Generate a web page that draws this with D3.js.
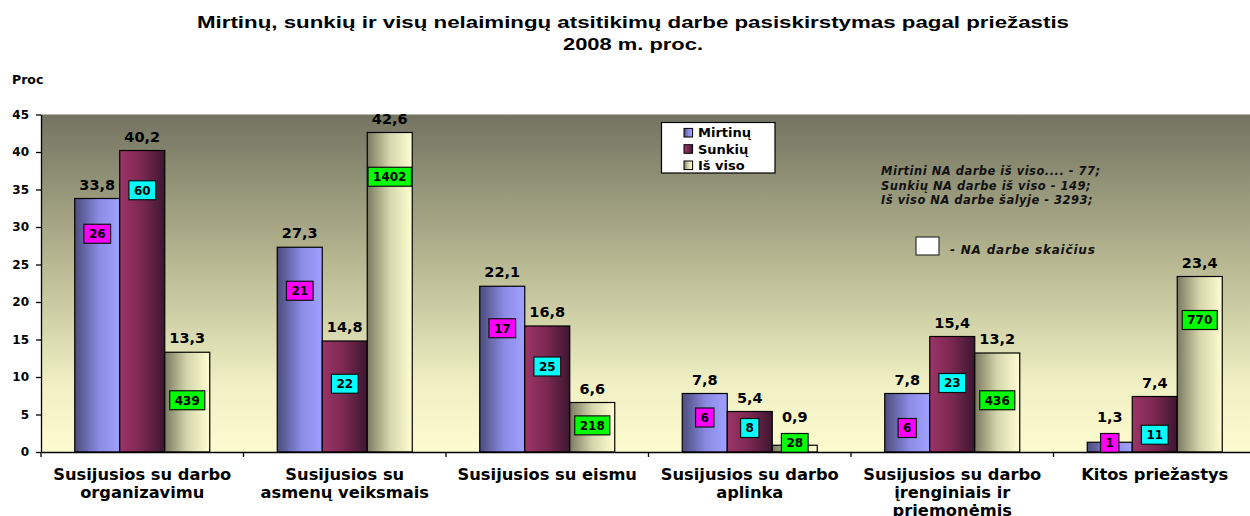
<!DOCTYPE html>
<html lang="lt">
  <head>
    <meta charset="utf-8">
    <title>Nelaimingi atsitikimai darbe 2008</title>
    <script src="https://cdn.jsdelivr.net/npm/d3@7"></script>
    <style>
      body { margin: 0; background: #fff; }
      text { font-family: "DejaVu Sans", sans-serif; font-weight: bold; }
    </style>
  </head>
  <body>
    <script>
    // data (percent of all cases per cause)
    var categories = [
      ["Susijusios su darbo", "organizavimu"],
      ["Susijusios su", "asmenų veiksmais"],
      ["Susijusios su eismu"],
      ["Susijusios su darbo", "aplinka"],
      ["Susijusios su darbo", "įrenginiais ir", "priemonėmis"],
      ["Kitos priežastys"]
    ];
    var seriesNames = ["Mirtinų", "Sunkių", "Iš viso"];

    var mirtinu = [33.8, 27.3, 22.1, 7.8, 7.8, 1.3];
    var sunkiu  = [40.2, 14.8, 16.8, 5.4, 15.4, 7.4];
    var isViso  = [13.3, 42.6, 6.6, 0.9, 13.2, 23.4];

    // number of accidents (boxed labels)
    var mirtinuCount = [26, 21, 17, 6, 6, 1];
    var sunkiuCount  = [60, 22, 25, 8, 23, 11];
    var isVisoCount  = [439, 1402, 218, 28, 436, 770];

    var yTicks = [0, 5, 10, 15, 20, 25, 30, 35, 40, 45];

    var noteLines = [
      "Mirtini NA darbe iš viso.... - 77;",
      "Sunkių NA darbe iš viso - 149;",
      "Iš viso NA darbe šalyje - 3293;"
    ];
    var noteKey = "- NA darbe skaičius";

    // where the hand placed count boxes sit, in axis units
    var boxAt = [
      [29.1, 21.5, 16.5, 4.6, 3.2, 1.2],
      [34.9, 9.1, 11.4, 3.2, 9.2, 2.3],
      [6.9, 36.7, 3.55, 1.2, 6.9, 17.6]
    ];

    var values = [mirtinu, sunkiu, isViso];
    var counts = [mirtinuCount, sunkiuCount, isVisoCount];
    var boxColors = ["#ff00ff", "#00ffff", "#00ff00"];

    var w = 1250, h = 516;
    var plotLeft = 41, plotTop = 114.5, plotBottom = 452;
    var step = 202.5;

    var svg = d3.select("body").append("svg")
                .attr("width", w)
                .attr("height", h);

    var defs = svg.append("defs");

    // plot background
    var bg = defs.append("linearGradient").attr("id", "bg")
                 .attr("x1", 0).attr("y1", 0).attr("x2", 0).attr("y2", 1);
    [[0, "#737361"], [0.45, "#b9b993"], [0.8, "#f0f0c4"], [1, "#fcfcd0"]].forEach(function(s) {
      bg.append("stop").attr("offset", s[0]).attr("stop-color", s[1]);
    });

    // bar gradients, one per series
    var barStops = [
      [[0, "#4c4c7c"], [0.55, "#8c8ce6"], [1, "#a0a0ff"]],
      [[0, "#9c3468"], [0.5, "#7a2850"], [1, "#3c1630"]],
      [[0, "#7a7a62"], [0.5, "#d6d6ac"], [1, "#fefed2"]]
    ];
    barStops.forEach(function(stops, i) {
      var g = defs.append("linearGradient").attr("id", "bar" + i)
                  .attr("x1", 0).attr("y1", 0).attr("x2", 1).attr("y2", 0);
      stops.forEach(function(s) {
        g.append("stop").attr("offset", s[0]).attr("stop-color", s[1]);
      });
    });

    // scales
    var x0 = d3.scaleBand()
               .domain(d3.range(categories.length))
               .range([plotLeft, plotLeft + step * categories.length])
               .padding(0);
    var x1 = d3.scaleBand()
               .domain(d3.range(seriesNames.length))
               .range([0, x0.bandwidth()])
               .paddingInner(0)
               .paddingOuter(0.75);
    var y = d3.scaleLinear().domain([0, 45]).range([plotBottom, plotTop]);

    svg.append("rect")
       .attr("x", plotLeft).attr("y", plotTop)
       .attr("width", w - plotLeft).attr("height", plotBottom - plotTop)
       .attr("fill", "url(#bg)");

    // title (the original is set wide, so stretch it to the same span)
    var title = svg.append("text")
       .attr("text-anchor", "middle")
       .style("font-family", "'Liberation Sans', Arial, sans-serif")
       .style("font-size", "17px");
    title.append("tspan").attr("x", 633).attr("y", 28)
         .attr("textLength", 872).attr("lengthAdjust", "spacingAndGlyphs")
         .text("Mirtinų, sunkių ir visų nelaimingų atsitikimų darbe pasiskirstymas pagal priežastis");
    title.append("tspan").attr("x", 633).attr("y", 50)
         .attr("textLength", 140).attr("lengthAdjust", "spacingAndGlyphs")
         .text("2008 m. proc.");

    svg.append("text")
       .attr("x", 12).attr("y", 84)
       .style("font-size", "12.5px")
       .text("Proc");

    // bars
    var groups = svg.selectAll("g.cat")
       .data(categories)
       .enter().append("g")
       .attr("class", "cat")
       .attr("transform", function(d, i) { return "translate(" + x0(i) + ",0)"; });

    groups.selectAll("rect")
       .data(function(d, i) { return values.map(function(v, s) { return {s: s, v: v[i]}; }); })
       .enter().append("rect")
       .attr("x", function(d) { return x1(d.s); })
       .attr("y", function(d) { return y(d.v); })
       .attr("width", x1.bandwidth())
       .attr("height", function(d) { return y(0) - y(d.v); })
       .attr("fill", function(d) { return "url(#bar" + d.s + ")"; })
       .attr("stroke", "#000")
       .attr("stroke-width", 1.2);

    // count boxes
    var boxes = groups.selectAll("g.box")
       .data(function(d, i) { return counts.map(function(c, s) { return {s: s, n: c[i], at: boxAt[s][i]}; }); })
       .enter().append("g")
       .attr("class", "box");

    boxes.each(function(d) {
      var g = d3.select(this);
      var cx = x1(d.s) + x1.bandwidth() / 2;
      var cy = y(d.at);
      var t = g.append("text")
               .attr("x", cx).attr("y", cy)
               .attr("dy", "0.36em")
               .attr("text-anchor", "middle")
               .style("font-size", "12px")
               .text(d.n);
      var tw = t.node().getComputedTextLength();
      var bw = Math.max(tw + 10, 18);
      g.insert("rect", "text")
       .attr("x", cx - bw / 2).attr("y", cy - 9.5)
       .attr("width", bw).attr("height", 19)
       .attr("fill", boxColors[d.s])
       .attr("stroke", "#111")
       .attr("stroke-width", 1.2);
    });

    // value labels above bars (lifted over a box when one sits on top)
    groups.selectAll("text.val")
       .data(function(d, i) { return values.map(function(v, s) { return {s: s, v: v[i], box: y(boxAt[s][i]) - 9.5}; }); })
       .enter().append("text")
       .attr("class", "val")
       .attr("x", function(d) { return x1(d.s) + x1.bandwidth() / 2; })
       .attr("y", function(d) { return Math.min(y(d.v) - 9, d.box - 12); })
       .attr("text-anchor", "middle")
       .style("font-size", "14.5px")
       .text(function(d) { return d.v.toFixed(1).replace(".", ","); });

    // y axis
    var yAxis = d3.axisLeft(y)
                  .tickValues(yTicks)
                  .tickSize(5)
                  .tickSizeOuter(0)
                  .tickPadding(7);
    var ya = svg.append("g")
       .attr("transform", "translate(" + plotLeft + ",0)")
       .call(yAxis);
    ya.selectAll("text").style("font-size", "12px").style("font-family", "'DejaVu Sans', sans-serif").style("font-weight", "bold");
    ya.select(".domain").attr("stroke", "#000").attr("stroke-width", 1.3);
    ya.selectAll(".tick line").attr("stroke", "#000").attr("stroke-width", 1.3);

    // x axis: line, ticks at category edges, wrapped labels
    var xAxis = d3.axisBottom(x0).tickSize(0).tickSizeOuter(0).tickFormat("");
    var xa = svg.append("g")
       .attr("transform", "translate(0," + plotBottom + ")")
       .call(xAxis);
    xa.select(".domain").attr("stroke", "#000").attr("stroke-width", 1.3);

    var edges = d3.range(categories.length + 1).map(function(i) {
      return i < categories.length ? x0(i) : x0(i - 1) + x0.bandwidth();
    });
    svg.selectAll("line.edge")
       .data(edges)
       .enter().append("line")
       .attr("class", "edge")
       .attr("x1", function(d) { return d; }).attr("x2", function(d) { return d; })
       .attr("y1", plotBottom).attr("y2", plotBottom + 5)
       .attr("stroke", "#000").attr("stroke-width", 1.3);

    svg.selectAll("text.cat")
       .data(categories)
       .enter().append("text")
       .attr("class", "cat")
       .attr("text-anchor", "middle")
       .style("font-size", "16.3px")
       .each(function(lines, i) {
         var t = d3.select(this);
         var cx = x0(i) + x0.bandwidth() / 2;
         lines.forEach(function(l, k) {
           t.append("tspan").attr("x", cx).attr("y", 479.5 + k * 18).text(l);
         });
       });

    // legend
    var lg = svg.append("g").attr("transform", "translate(661.5,122.5)");
    lg.append("rect")
      .attr("width", 113.5).attr("height", 50.5)
      .attr("fill", "#fff").attr("stroke", "#000").attr("stroke-width", 1.2);
    seriesNames.forEach(function(name, i) {
      var row = lg.append("g").attr("transform", "translate(0," + (10.2 + i * 16.3) + ")");
      row.append("rect")
         .attr("x", 22.5).attr("y", -4.3)
         .attr("width", 8.6).attr("height", 8.6)
         .attr("fill", "url(#bar" + i + ")")
         .attr("stroke", "#000").attr("stroke-width", 1);
      row.append("text")
         .attr("x", 36.5).attr("dy", "0.36em")
         .style("font-size", "13px")
         .text(name);
    });

    // notes
    svg.selectAll("text.note")
       .data(noteLines)
       .enter().append("text")
       .attr("class", "note")
       .attr("x", 881)
       .attr("y", function(d, i) { return 175 + i * 14.5; })
       .style("font-size", "11.5px")
       .style("font-style", "italic")
       .style("letter-spacing", "0.5px")
       .attr("fill", "#111")
       .text(function(d) { return d; });

    svg.append("rect")
       .attr("x", 916).attr("y", 237)
       .attr("width", 23).attr("height", 18)
       .attr("fill", "#fff").attr("stroke", "#333").attr("stroke-width", 1.2);
    svg.append("text")
       .attr("x", 950).attr("y", 254)
       .style("font-size", "12px")
       .style("font-style", "italic")
       .style("letter-spacing", "0.8px")
       .attr("fill", "#111")
       .text(noteKey);
    </script>
  </body>
</html>
